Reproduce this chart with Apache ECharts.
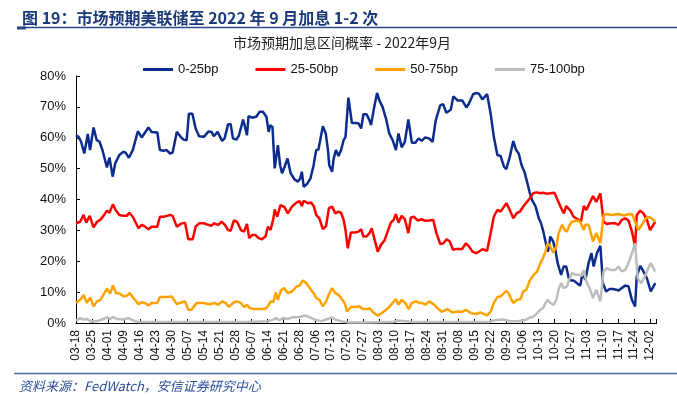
<!DOCTYPE html>
<html>
<head>
<meta charset="utf-8">
<script src="https://cdn.jsdelivr.net/npm/echarts@6/dist/echarts.min.js"></script>
<style>
html,body{margin:0;padding:0;background:#fff;}
#chart{width:677px;height:395px;}
</style>
</head>
<body>
<div id="chart"></div>
<script>
// x = trading-day index (label every 5 points), y = probability (%)
const tickLabels = ['03-18','03-25','04-01','04-09','04-16','04-23','04-30','05-07','05-14','05-21','05-28','06-07','06-14','06-21','06-28','07-06','07-13','07-20','07-27','08-03','08-10','08-17','08-24','08-31','09-08','09-15','09-22','09-29','10-06','10-13','10-20','10-27','11-03','11-10','11-17','11-24','12-02'];
const seriesNames = ['0-25bp','25-50bp','50-75bp','75-100bp'];

const bp0_25 = [[0,60.8],[0.8,60.3],[1.6,58.7],[2.6,54.9],[3.7,61.2],[4.4,56.0],[5.5,63.3],[6.5,59.2],[7.4,58.7],[8.3,56.0],[9.7,50.4],[10.5,53.6],[11.5,47.4],[12.3,51.7],[13.6,54.4],[14.9,55.5],[15.6,55.1],[16.6,53.5],[17.8,56.0],[19.4,62.1],[20.6,60.1],[22.7,63.3],[23.7,61.9],[25.5,61.7],[26.3,56.0],[27.4,55.8],[28.4,56.0],[29.5,54.9],[30.3,55.2],[31.6,61.9],[32.8,60.3],[33.7,59.4],[34.7,59.2],[35.4,67.8],[36.5,67.8],[37.5,63.0],[38.6,60.5],[40.1,60.3],[41.5,62.0],[42.5,61.9],[43.2,60.5],
[44.4,61.9],[45.8,59.0],[46.6,59.8],[47.7,64.4],[48.5,64.4],[49.2,59.8],[50.3,59.4],[51.1,60.8],[52.4,65.9],[53.6,60.8],[54.1,67.0],[55.2,66.5],[56.5,66.8],[57.6,68.4],[58.6,68.4],[59.7,66.8],[60.4,61.9],[60.9,64.1],[61.6,63.5],[62.3,50.1],[63.3,57.6],[64.0,51.1],[64.6,48.5],[65.4,50.6],[66.3,53.3],[67.3,48.5],[68.5,46.5],[69.6,45.8],[70.3,46.8],[70.8,49.0],[71.4,44.1],[72.4,45.0],[73.5,46.8],[74.5,51.1],[75.3,56.0],[76.0,56.2],[77.4,63.7],[78.3,61.4],[79.0,56.0],[79.4,51.1],[80.3,49.0],[80.8,53.3],[81.5,56.0],[82.3,54.1],[83.1,56.0],[83.9,59.2],[84.5,60.3],[85.4,73.0],[86.5,64.8],[87.8,64.8],[88.6,64.6],[89.4,63.0],
[90.1,67.6],[91.1,67.6],[92.0,65.7],[92.5,64.1],[93.5,70.0],[94.4,74.5],[95.1,72.1],[96.1,70.0],[97.2,66.2],[98.2,61.4],[99.3,59.2],[100.3,56.0],[101.1,61.4],[102.1,56.9],[103.1,58.7],[104.2,65.9],[105.3,58.4],[106.4,58.4],[107.4,59.8],[108.4,59.0],[109.5,60.1],[110.7,59.8],[111.8,58.7],[112.8,65.7],[114.2,70.5],[115.1,70.9],[116.1,68.1],[117.5,69.1],[118.3,73.4],[119.6,72.1],[121.1,72.1],[122.4,69.8],[123.2,71.1],[124.5,74.1],[125.5,74.5],[126.3,74.3],[127.4,72.4],[128.9,74.1],[130.0,67.8],[131.0,60.3],[132.1,54.4],[133.1,54.1],[134.2,50.6],[134.9,49.8],
[136.0,53.8],[137.1,58.9],[138.0,56.0],[138.8,54.9],[139.7,51.1],[140.6,49.0],[141.4,45.8],[142.3,42.0],[143.0,39.8],[144.1,37.7],[145.1,33.9],[145.8,32.3],[146.4,30.1],[147.2,26.4],[148.0,23.1],[148.7,28.0],[149.6,26.4],[150.3,23.7],[151.0,19.4],[152.1,15.6],[152.9,18.3],[153.7,18.3],[154.5,14.5],[155.2,13.8],[156.0,13.8],[157.1,12.9],[158.1,12.1],[158.8,16.2],[159.7,14.0],[160.7,19.4],[161.6,22.6],[162.3,18.3],[163.3,22.6],[164.4,25.0],[165.2,12.9],[166.2,10.2],[167.3,11.0],[168.3,11.0],[169.4,10.8],[170.1,10.5],[171.1,11.3],[172.2,12.1],[173.2,11.9],[174.3,7.5],[175.3,5.4],[175.8,15.1],[176.9,18.5],[177.9,16.7],[179.0,14.5],[180.2,10.2],[181.6,12.9]];

const bp25_50 = [[0,32.3],[1.3,32.8],[2.4,35.0],[3.2,32.5],[4.3,34.7],[5.5,31.0],[6.6,32.8],[7.6,33.4],[8.6,34.7],[9.7,36.4],[10.5,35.7],[11.6,38.5],[12.3,36.8],[13.6,35.0],[14.9,34.7],[15.9,34.7],[16.7,35.7],[17.8,34.4],[19.6,30.7],[20.6,31.8],[21.7,31.2],[22.7,30.4],[23.7,31.2],[25.5,31.2],[26.3,34.4],[27.4,34.4],[28.4,34.7],[29.5,35.0],[30.3,34.7],[31.6,31.2],[32.8,32.1],[34.2,32.5],[35.2,27.1],[36.6,27.1],[37.5,31.2],[38.6,32.3],[40.1,32.3],[41.4,31.8],[42.5,31.5],[43.2,32.3],
[44.6,31.8],[45.6,32.8],[46.7,31.8],[47.7,30.1],[48.5,29.9],[49.5,33.2],[50.5,32.8],[51.7,30.1],[52.7,29.6],[53.6,32.1],[54.3,27.5],[55.2,28.5],[56.2,28.5],[57.3,27.5],[58.3,27.1],[59.4,28.0],[60.2,31.2],[61.0,30.1],[61.9,33.9],[62.3,36.8],[63.1,34.4],[64.1,38.2],[65.4,37.5],[66.4,35.5],[67.7,37.7],[69.1,39.0],[70.1,39.5],[70.8,37.9],[71.4,39.6],[72.7,38.8],[73.7,39.0],[74.6,37.7],[75.3,35.0],[76.3,33.9],[77.4,30.4],[78.4,31.4],[79.3,37.2],[80.3,37.7],[81.3,35.5],[82.3,36.1],[83.1,35.7],[83.9,33.4],[84.5,30.1],[85.2,24.2],[86.2,29.3],[87.5,29.3],[88.6,29.6],
[89.4,30.4],[90.1,28.0],[91.1,28.0],[92.0,29.1],[92.7,30.7],[93.5,27.5],[94.6,23.1],[95.6,25.3],[96.7,26.7],[97.7,29.6],[98.7,32.5],[99.6,33.4],[100.3,35.3],[101.1,32.5],[102.1,34.7],[103.1,33.6],[104.2,29.1],[105.0,34.2],[106.0,34.4],[107.1,33.2],[108.4,33.6],[109.5,33.1],[110.7,33.2],[112.0,33.4],[113.0,29.1],[114.2,25.6],[115.2,25.8],[116.2,27.1],[117.2,26.4],[118.2,23.7],[119.3,24.0],[121.1,24.0],[122.2,25.8],[123.2,24.8],[124.3,23.1],[125.5,22.6],[126.3,23.1],[127.4,23.9],[128.9,23.4],[130.0,29.1],[131.0,34.4],[132.1,36.6],[133.1,36.1],[134.2,37.7],
[135.0,38.8],[136.0,36.6],[137.1,33.9],[138.1,35.5],[139.2,36.1],[140.2,37.7],[141.2,39.0],[142.3,40.4],[143.3,42.0],[144.4,42.3],[145.6,42.0],[146.4,42.2],[147.5,41.9],[148.7,42.0],[150.0,42.2],[151.0,39.8],[152.1,37.2],[153.0,35.5],[153.7,37.9],[155.0,36.4],[156.0,34.4],[157.3,33.6],[158.3,32.8],[159.2,37.9],[160.0,36.6],[161.0,38.8],[162.1,41.1],[163.1,39.2],[164.4,42.0],[165.4,32.8],[166.4,32.1],[167.7,32.3],[169.1,32.3],[170.1,31.8],[171.1,33.4],[172.2,33.9],[173.2,33.2],[174.3,29.6],[175.3,24.8],[175.8,35.0],[176.9,36.4],[177.9,35.5],[179.0,33.4],[180.0,30.1],[181.6,32.8]];

const bp50_75 = [[0,6.5],[1.3,7.5],[2.4,9.1],[3.4,6.5],[4.5,8.3],[5.5,5.4],[6.6,7.0],[7.6,7.5],[8.6,9.1],[9.7,11.1],[10.7,9.5],[11.6,12.2],[12.5,9.7],[13.8,9.5],[14.9,8.6],[15.9,8.8],[16.8,9.7],[18.0,8.1],[19.6,6.1],[20.6,6.7],[21.7,6.5],[22.7,5.7],[23.7,6.5],[25.5,6.5],[26.3,8.4],[28.4,8.4],[30.0,8.6],[31.6,6.1],[33.1,6.7],[34.2,7.0],[35.2,4.3],[36.2,4.3],[37.8,6.5],[39.9,6.5],[42.0,6.1],[43.5,6.5],
[44.6,5.9],[45.8,7.0],[46.9,6.5],[47.9,5.2],[49.3,6.5],[50.3,7.0],[51.7,6.5],[52.7,5.2],[53.6,5.9],[54.5,4.8],[56.0,4.5],[57.6,4.5],[59.2,4.5],[60.2,5.4],[61.0,7.0],[61.9,6.8],[62.6,9.9],[63.3,7.5],[64.2,10.5],[65.2,11.3],[66.4,9.7],[67.7,10.2],[69.1,11.8],[70.1,12.1],[71.1,13.8],[72.2,12.9],[73.5,11.0],[74.6,9.5],[75.3,8.1],[76.3,7.5],[77.4,5.4],[78.4,7.0],[79.5,9.7],[80.3,11.3],[81.3,9.7],[82.3,9.1],[83.1,8.1],[84.2,6.5],[85.0,3.7],[86.2,5.2],[87.8,5.2],[88.8,5.4],[89.9,4.5],
[90.9,4.5],[92.2,4.7],[93.2,3.4],[94.6,2.4],[95.6,3.0],[97.0,4.1],[98.2,5.2],[99.3,6.5],[100.3,7.8],[101.1,5.9],[102.1,7.5],[103.2,6.5],[104.3,4.5],[105.3,6.5],[106.6,7.0],[107.6,6.5],[108.6,6.5],[109.5,5.9],[110.7,7.0],[112.0,6.2],[113.3,4.8],[114.7,3.6],[116.5,4.5],[118.0,3.4],[119.6,3.7],[121.1,3.6],[122.2,4.3],[123.8,3.2],[125.3,2.9],[126.9,3.4],[127.9,2.9],[128.9,2.5],[130.0,3.7],[131.0,6.5],[132.1,8.4],[133.1,8.6],[134.2,9.7],[134.9,10.4],
[135.6,9.7],[136.3,8.1],[137.1,6.5],[138.3,7.5],[139.4,7.8],[140.2,10.2],[141.2,10.8],[142.3,13.8],[143.5,15.6],[144.6,16.7],[145.6,19.4],[146.4,21.0],[147.2,23.1],[147.9,25.8],[148.7,24.8],[149.6,22.8],[150.6,24.8],[151.3,29.1],[152.4,31.8],[153.2,30.1],[153.9,29.6],[154.8,31.8],[155.5,32.8],[157.1,33.2],[158.1,32.8],[159.2,30.1],[159.7,31.8],[160.7,31.8],[162.1,26.4],[163.1,29.1],[164.4,25.8],[165.4,35.0],[166.4,35.3],[168.0,35.0],[170.1,35.3],[171.7,34.8],[173.2,35.2],[174.3,35.3],[175.3,32.8],[176.3,30.1],[177.4,31.8],[178.4,33.6],[179.5,34.4],[180.5,33.9],[181.6,32.8]];

const bp75_100 = [[0,0.8],[1.3,1.6],[2.4,1.1],[3.4,1.3],[4.5,0.6],[6.6,0.6],[8.6,1.3],[9.7,1.8],[10.7,1.3],[11.6,1.9],[12.8,1.3],[14.9,1.1],[16.4,1.6],[18.0,0.8],[19.6,0.3],[43.5,0.3],
[53.9,0.3],[60.2,0.6],[61.8,1.1],[62.8,1.6],[63.8,0.8],[64.9,1.6],[66.4,1.3],[68.0,1.9],[69.4,1.9],[70.6,2.1],[71.9,2.4],[73.2,1.9],[74.8,1.1],[76.9,0.6],[78.9,1.3],[80.2,1.8],[81.3,1.1],[83.1,0.6],[85.2,0.2],[90.4,0.2],
[99.3,0.3],[100.8,0.8],[103.4,0.6],[105.5,0.3],[129.5,0.3],[131.0,0.8],[133.6,1.1],
[134.2,0.8],[136.2,0.6],[138.3,0.6],[140.4,0.8],[142.0,1.6],[143.5,2.1],[144.6,3.2],[145.6,4.3],[146.4,4.8],[147.2,6.5],[147.9,7.5],[148.7,6.5],[149.8,5.9],[150.6,7.5],[151.3,10.8],[152.1,12.9],[152.9,11.3],[153.9,11.8],[154.8,14.5],[155.5,16.2],[156.6,15.6],[157.6,15.6],[158.6,15.3],[159.2,17.2],[160.0,13.4],[161.0,11.3],[162.1,8.1],[163.1,10.8],[164.4,7.0],[165.4,16.7],[166.4,17.8],[167.5,17.2],[169.1,17.2],[170.1,18.3],[171.1,16.7],[172.2,17.2],[173.2,19.4],[174.3,22.6],[175.3,25.8],[176.1,14.5],[177.1,12.9],[178.1,14.5],[179.2,17.2],[180.2,19.4],[181.6,16.7]];

const colors = ['#0c2c8e','#ff0000','#ffa200','#bdbdbd'];
const seriesData = [bp0_25, bp25_50, bp50_75, bp75_100];

const chart = echarts.init(document.getElementById('chart'), null, {renderer:'canvas'});
const latin = '"Liberation Sans", Arial, "Noto Sans CJK SC", sans-serif';
const cjk = '"Noto Sans CJK SC", "Liberation Sans", sans-serif';

chart.setOption({
  animation: false,
  backgroundColor: '#ffffff',
  title: [
    {text: '图 19：市场预期美联储至 2022 年 9 月加息 1-2 次', left: 17, top: 5,
     textStyle: {fontFamily: cjk, fontSize: 16, fontWeight: 'bold', color: '#1b3a7c'}},
    {text: '市场预期加息区间概率 - 2022年9月', left: 337, top: 31, textAlign: 'center',
     textStyle: {fontFamily: cjk, fontSize: 14, fontWeight: 'normal', color: '#222'}},
    {text: '资料来源：FedWatch，安信证券研究中心', left: 14, top: 375,
     textStyle: {fontFamily: cjk, fontSize: 13, fontWeight: 'normal', fontStyle: 'italic', color: '#2c4f9b'}}
  ],
  graphic: [
    {type: 'line', shape: {x1: 17, y1: 27.5, x2: 677, y2: 27.5}, style: {stroke: '#2b4a8a', lineWidth: 1.5}},
    {type: 'rect', shape: {x: 17, y: 26.5, width: 9, height: 3}, style: {fill: '#2b4a8a'}},
    {type: 'line', shape: {x1: 14, y1: 373.5, x2: 677, y2: 373.5}, style: {stroke: '#4a6aa8', lineWidth: 1.5}}
  ],
  legend: {
    data: seriesNames, left: 138, top: 58, icon: 'rect', itemWidth: 30, itemHeight: 3, itemGap: 37,
    textStyle: {fontFamily: latin, fontSize: 13, color: '#111'}
  },
  grid: {left: 76, right: 20.5, top: 76, bottom: 72, containLabel: false},
  xAxis: {
    type: 'value', min: 0, max: 182, interval: 5,
    axisLine: {show: true, lineStyle: {color: '#000', width: 1}},
    axisTick: {show: true, inside: true, length: 4, lineStyle: {color: '#000'}},
    splitLine: {show: false},
    axisLabel: {
      rotate: 90, margin: 7, fontFamily: latin, fontSize: 12, color: '#111',
      showMaxLabel: true, showMinLabel: true,
      formatter: function (v) {
        const k = Math.round(v);
        if (k % 5 !== 0) return '';
        const i = k / 5;
        return i < tickLabels.length ? tickLabels[i] : '';
      }
    }
  },
  yAxis: {
    type: 'value', min: 0, max: 80, interval: 10,
    axisLine: {show: true, lineStyle: {color: '#000', width: 1}},
    axisTick: {show: true, inside: true, length: 4, lineStyle: {color: '#000'}},
    splitLine: {show: false},
    axisLabel: {formatter: '{value}%', margin: 10, fontFamily: latin, fontSize: 13, color: '#111'}
  },
  series: seriesNames.map(function (name, i) {
    return {
      name: name, type: 'line', data: seriesData[i], showSymbol: false, symbol: 'none',
      lineStyle: {color: colors[i], width: 2.5}, itemStyle: {color: colors[i]},
      z: 2 + i
    };
  })
});
</script>
</body>
</html>
